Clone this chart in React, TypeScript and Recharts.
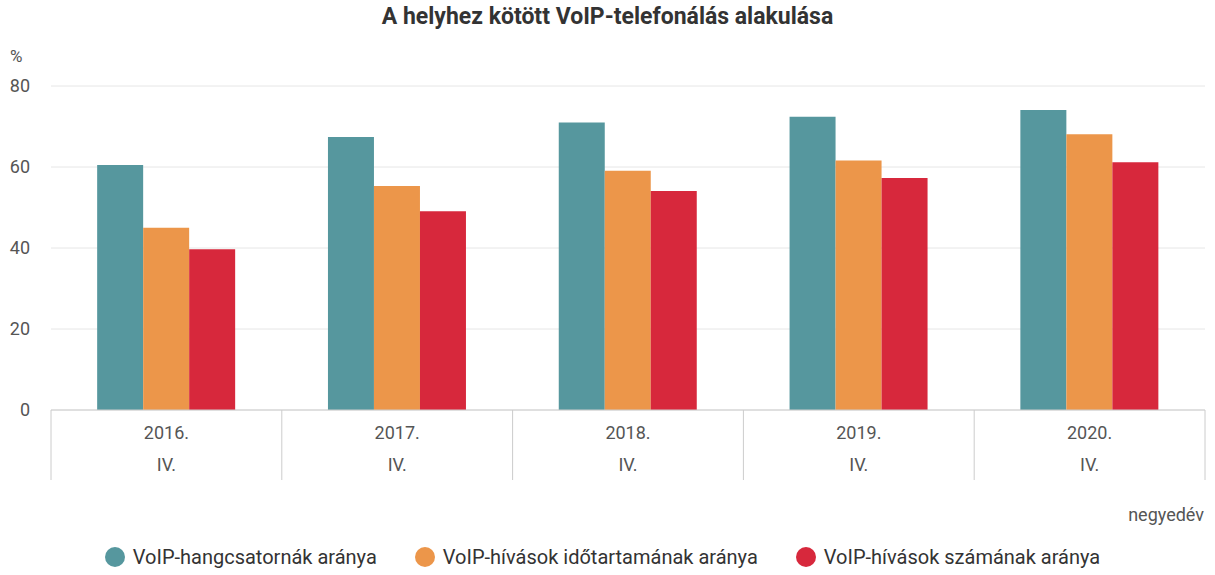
import React from "react";
import { BarChart, Bar, XAxis, YAxis, CartesianGrid, Legend } from "recharts";

const years = ["2016.", "2017.", "2018.", "2019.", "2020."];
const quarter = "IV.";
const channels = [60.5, 67.4, 71.0, 72.4, 74.1];
const duration = [45.0, 55.3, 59.1, 61.6, 68.1];
const calls = [39.7, 49.1, 54.1, 57.3, 61.2];
const yTicks = [0, 20, 40, 60, 80];

const series = [
    { key: "channels", name: "VoIP-hangcsatornák aránya", color: "#56979E" },
    { key: "duration", name: "VoIP-hívások időtartamának aránya", color: "#EC964A" },
    { key: "calls", name: "VoIP-hívások számának aránya", color: "#D7283C" },
];

const data = years.map((y, i) => ({
    year: y,
    channels: channels[i],
    duration: duration[i],
    calls: calls[i],
}));

const W = 1215;
const H = 575;
const plotLeft = 51;
const plotRight = 10;
const band = (W - plotLeft - plotRight) / years.length;
const font = "Roboto, sans-serif";

const YearTick = (props: any) => {
    const { x, y, payload, index } = props;
    return (
        <g>
            <line x1={x - band / 2} y1={y} x2={x - band / 2} y2={y + 70} stroke="#ccc" />
            {index === years.length - 1 && (
                <line x1={x + band / 2} y1={y} x2={x + band / 2} y2={y + 70} stroke="#ccc" />
            )}
            <text x={x} y={y + 29} textAnchor="middle" fill="#555" fontSize={18} fontFamily={font}>
                {payload.value}
            </text>
            <text x={x} y={y + 61} textAnchor="middle" fill="#555" fontSize={18} fontFamily={font}>
                {quarter}
            </text>
        </g>
    );
};

const LegendContent = () => (
    <div style={{ display: "flex", justifyContent: "center", gap: 38, paddingTop: 5, fontFamily: font, fontSize: 20, color: "#333" }}>
        {series.map((s) => (
            <div key={s.key} style={{ display: "flex", alignItems: "center" }}>
                <span style={{ width: 20, height: 20, borderRadius: 10, background: s.color, marginRight: 8, display: "inline-block" }} />
                {s.name}
            </div>
        ))}
    </div>
);

const App: React.FC = () => {
    return (
        <div style={{ position: "absolute", left: 0, top: 0, width: W, height: H, fontFamily: font }}>
            <div style={{ position: "absolute", top: 3, width: W, textAlign: "center", fontSize: 23, fontWeight: "bold", color: "#333" }}>
                A helyhez kötött VoIP-telefonálás alakulása
            </div>
            <div style={{ position: "absolute", top: 46, left: 10, fontSize: 17, color: "#555" }}>%</div>
            <div style={{ position: "absolute", top: 504, right: 11, fontSize: 18, color: "#555" }}>negyedév</div>
            <BarChart
                width={W}
                height={H}
                data={data}
                margin={{ top: 86, right: plotRight, bottom: 0, left: 0 }}
                barCategoryGap="20%"
                barGap={0}
            >
                <CartesianGrid vertical={false} stroke="#e6e6e6" />
                <XAxis
                    dataKey="year"
                    height={130}
                    tick={<YearTick />}
                    tickLine={false}
                    tickSize={0}
                    tickMargin={0}
                    axisLine={{ stroke: "#ccc" }}
                    interval={0}
                />
                <YAxis
                    width={plotLeft}
                    domain={[0, 80]}
                    ticks={yTicks}
                    axisLine={false}
                    tickLine={false}
                    tickSize={0}
                    tickMargin={21}
                    tick={{ fill: "#555", fontSize: 18, fontFamily: font }}
                />
                <Legend verticalAlign="bottom" height={35} content={<LegendContent />} />
                {series.map((s) => (
                    <Bar key={s.key} dataKey={s.key} name={s.name} fill={s.color} isAnimationActive={false} />
                ))}
            </BarChart>
        </div>
    );
};

export default App;
